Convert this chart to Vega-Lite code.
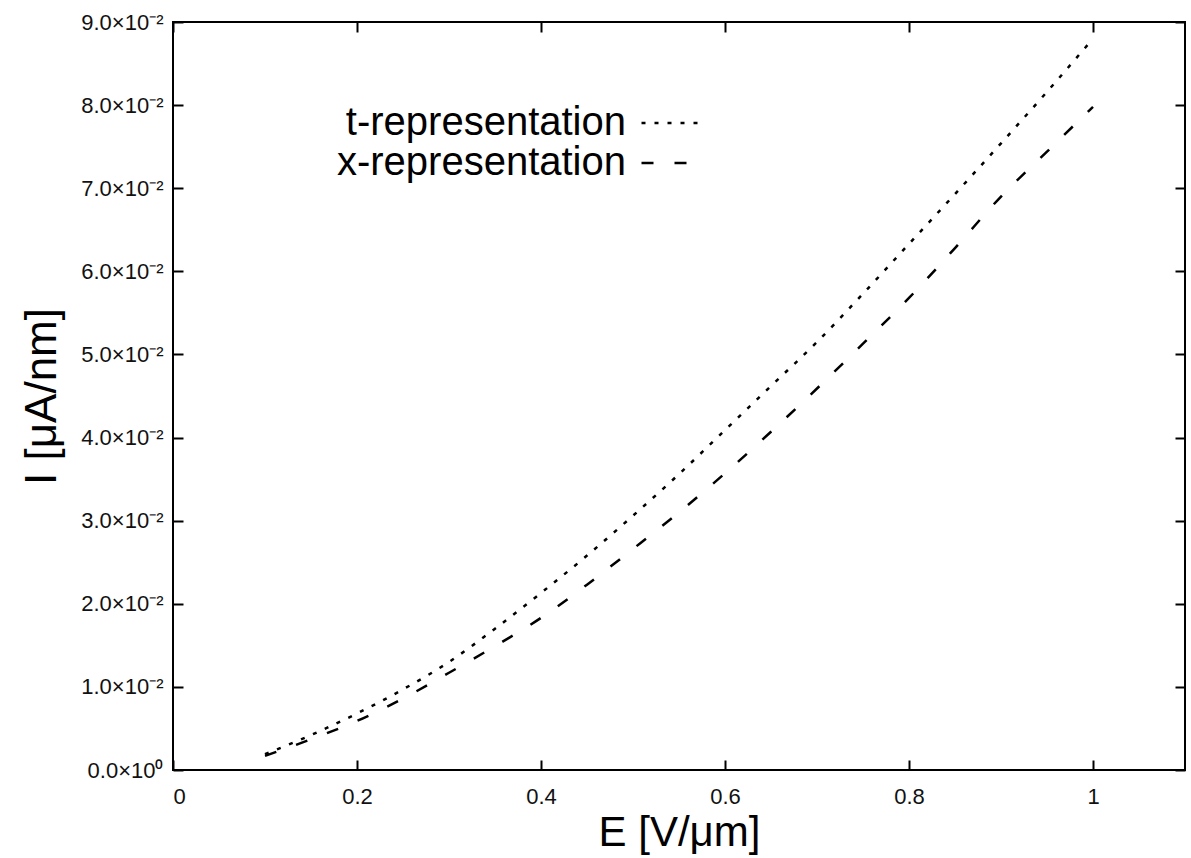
{
  "$schema": "https://vega.github.io/schema/vega-lite/v6.json",
  "width": 1012,
  "height": 748,
  "autosize": {"type": "none"},
  "padding": {"left": 173, "top": 22, "right": 6, "bottom": 88},
  "background": "white",
  "config": {
    "font": "Liberation Sans",
    "view": {"stroke": "black", "strokeWidth": 2},
    "axis": {"grid": false, "domain": false, "tickColor": "black", "tickWidth": 2, "labelColor": "#111", "titleColor": "black", "titleFontWeight": "normal", "labelFont": "Liberation Sans", "titleFont": "Liberation Sans"}
  },
  "data": {
    "values": [
      {"E": 0.10, "I": 0.0019, "s": "t-representation"},
      {"E": 0.15, "I": 0.0042, "s": "t-representation"},
      {"E": 0.20, "I": 0.0068, "s": "t-representation"},
      {"E": 0.25, "I": 0.0097, "s": "t-representation"},
      {"E": 0.30, "I": 0.0130, "s": "t-representation"},
      {"E": 0.35, "I": 0.0170, "s": "t-representation"},
      {"E": 0.40, "I": 0.0213, "s": "t-representation"},
      {"E": 0.45, "I": 0.0258, "s": "t-representation"},
      {"E": 0.50, "I": 0.0306, "s": "t-representation"},
      {"E": 0.55, "I": 0.0356, "s": "t-representation"},
      {"E": 0.60, "I": 0.0409, "s": "t-representation"},
      {"E": 0.65, "I": 0.0462, "s": "t-representation"},
      {"E": 0.70, "I": 0.0515, "s": "t-representation"},
      {"E": 0.75, "I": 0.0573, "s": "t-representation"},
      {"E": 0.80, "I": 0.0633, "s": "t-representation"},
      {"E": 0.85, "I": 0.0693, "s": "t-representation"},
      {"E": 0.90, "I": 0.0754, "s": "t-representation"},
      {"E": 0.95, "I": 0.0816, "s": "t-representation"},
      {"E": 1.00, "I": 0.0880, "s": "t-representation"},
      {"E": 0.10, "I": 0.0017, "s": "x-representation"},
      {"E": 0.15, "I": 0.0037, "s": "x-representation"},
      {"E": 0.20, "I": 0.0059, "s": "x-representation"},
      {"E": 0.25, "I": 0.0086, "s": "x-representation"},
      {"E": 0.30, "I": 0.0117, "s": "x-representation"},
      {"E": 0.35, "I": 0.0149, "s": "x-representation"},
      {"E": 0.40, "I": 0.0183, "s": "x-representation"},
      {"E": 0.45, "I": 0.0223, "s": "x-representation"},
      {"E": 0.50, "I": 0.0266, "s": "x-representation"},
      {"E": 0.55, "I": 0.0310, "s": "x-representation"},
      {"E": 0.60, "I": 0.0357, "s": "x-representation"},
      {"E": 0.65, "I": 0.0407, "s": "x-representation"},
      {"E": 0.70, "I": 0.0459, "s": "x-representation"},
      {"E": 0.75, "I": 0.0513, "s": "x-representation"},
      {"E": 0.80, "I": 0.0568, "s": "x-representation"},
      {"E": 0.85, "I": 0.0628, "s": "x-representation"},
      {"E": 0.90, "I": 0.0690, "s": "x-representation"},
      {"E": 0.95, "I": 0.0744, "s": "x-representation"},
      {"E": 1.00, "I": 0.0798, "s": "x-representation"}
    ]
  },
  "layer": [
    {
      "mark": {"type": "line", "color": "black", "strokeWidth": 2.5, "interpolate": "monotone"},
      "encoding": {
        "x": {"field": "E", "type": "quantitative", "scale": {"domain": [0, 1.1], "nice": false},
          "axis": {"orient": "bottom", "values": [0, 0.2, 0.4, 0.6, 0.8, 1], "format": "~g", "tickSize": -10, "labelPadding": 26, "labelFontSize": 22, "title": "E [V/μm]", "titleFontSize": 42, "titlePadding": 5}},
        "y": {"field": "I", "type": "quantitative", "scale": {"domain": [0, 0.09], "nice": false},
          "axis": {"orient": "left", "values": [0, 0.01, 0.02, 0.03, 0.04, 0.05, 0.06, 0.07, 0.08, 0.09], "labelExpr": "datum.value == 0 ? '0.0×10⁰' : format(datum.value*100, '.1f') + '×10⁻²'", "tickSize": -10, "labelPadding": 20, "labelFontSize": 22, "title": "I [μA/nm]", "titleFontSize": 44, "titlePadding": 16}},
        "strokeDash": {"field": "s", "type": "nominal",
          "scale": {"domain": ["t-representation", "x-representation"], "range": [[4, 9], [12, 21]]},
          "legend": {"orient": "none", "legendX": 480, "legendY": 81, "title": null, "symbolType": "M-3,0L3,0", "symbolSize": 441, "symbolStrokeWidth": 2.5, "symbolStrokeColor": "black", "symbolFillColor": "transparent", "symbolOpacity": 1, "labelFontSize": 40, "labelColor": "black", "labelAlign": "right", "labelOffset": -67, "rowPadding": 0, "labelLimit": 500}}
      }
    },
    {
      "mark": {"type": "line", "strokeOpacity": 0},
      "encoding": {
        "x": {"field": "E", "type": "quantitative", "axis": {"orient": "top", "values": [0, 0.2, 0.4, 0.6, 0.8, 1], "labels": false, "tickSize": -10, "title": null}},
        "y": {"field": "I", "type": "quantitative", "axis": {"orient": "right", "values": [0, 0.01, 0.02, 0.03, 0.04, 0.05, 0.06, 0.07, 0.08, 0.09], "labels": false, "tickSize": -10, "title": null}},
        "detail": {"field": "s", "type": "nominal"}
      }
    }
  ],
  "resolve": {"axis": {"x": "independent", "y": "independent"}}
}
